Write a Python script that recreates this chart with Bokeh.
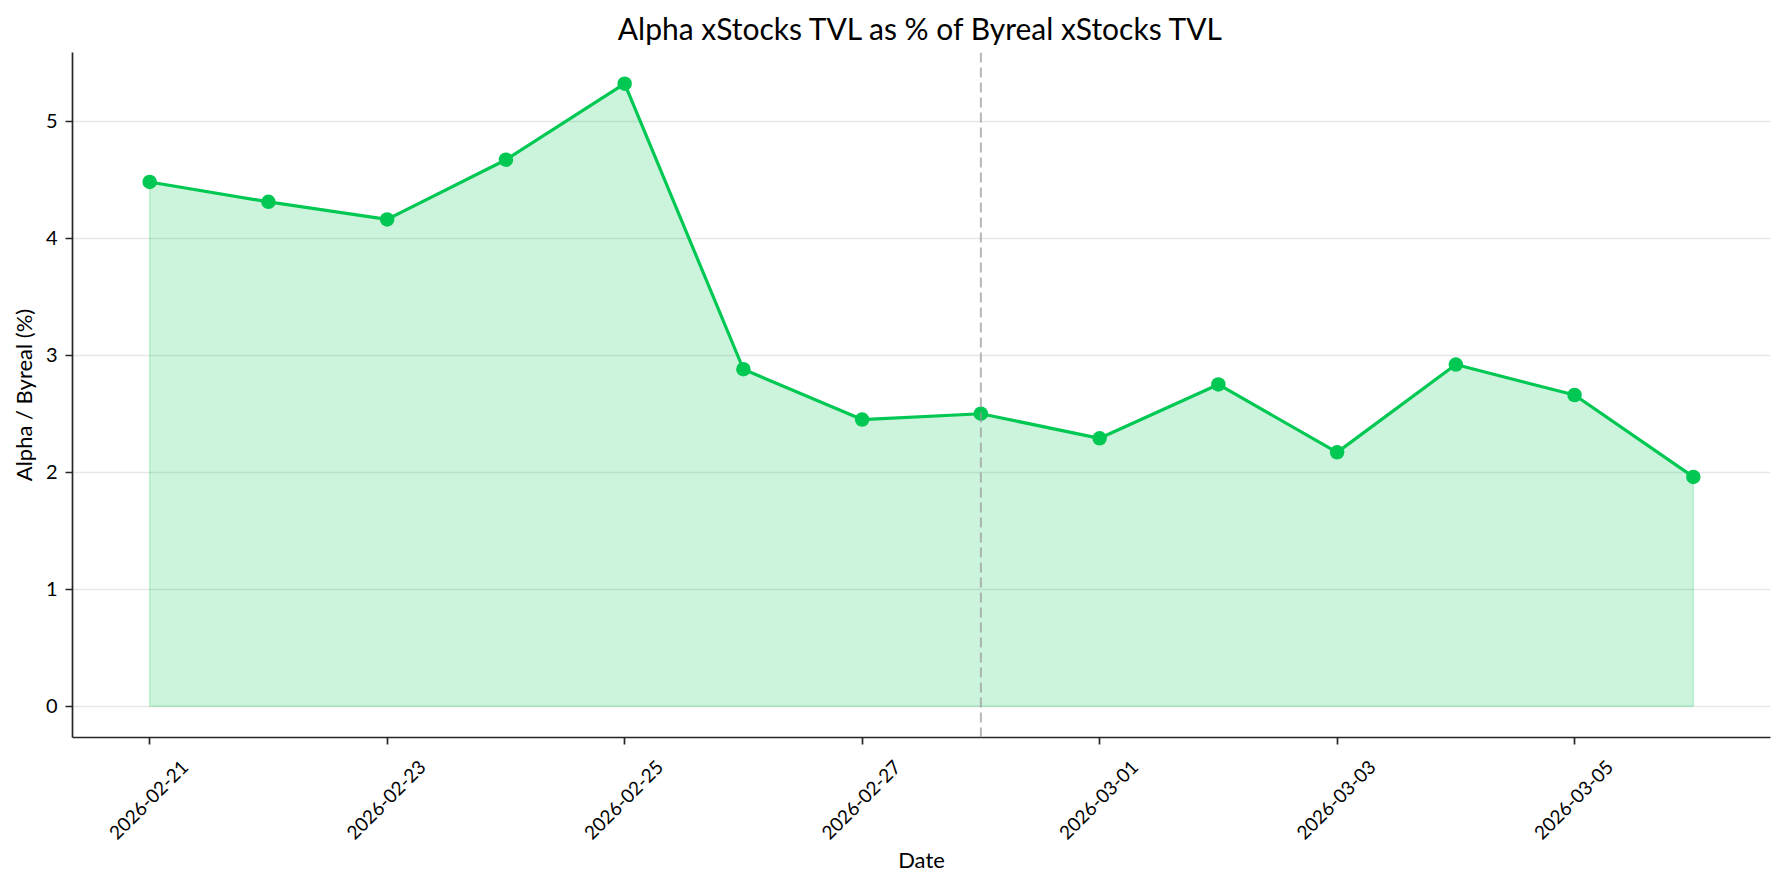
import datetime as dt
import numpy as np
from bokeh.plotting import figure
from bokeh.models import (ColumnDataSource, FixedTicker, DatetimeTickFormatter,
                          DatetimeAxis, Span, Range1d)
from bokeh.embed import file_html
from bokeh.resources import INLINE

# ---- data ----
dates = ["2026-02-21", "2026-02-22", "2026-02-23", "2026-02-24", "2026-02-25",
         "2026-02-26", "2026-02-27", "2026-02-28", "2026-03-01", "2026-03-02",
         "2026-03-03", "2026-03-04", "2026-03-05", "2026-03-06"]
ratio_pct = [4.48, 4.31, 4.16, 4.67, 5.32, 2.88, 2.45, 2.50, 2.29, 2.75,
             2.17, 2.92, 2.66, 1.96]
x_ticks = ["2026-02-21", "2026-02-23", "2026-02-25", "2026-02-27",
           "2026-03-01", "2026-03-03", "2026-03-05"]
y_ticks = [0, 1, 2, 3, 4, 5]
marker_date = "2026-02-28"

TITLE = "Alpha xStocks TVL as % of Byreal xStocks TVL"
XLABEL = "Date"
YLABEL = "Alpha / Byreal (%)"

GREEN = "#00c853"
FONT = "Lato"
INK = "#000000"
SPINE = "#262626"

FRAME_W, FRAME_H = 1698, 685
LABEL_SHIFT_PX = 35   # rotated labels centred on their tick (matplotlib style)


def to_dt(s):
    return dt.datetime.strptime(s, "%Y-%m-%d")


def to_ms(s):
    return (to_dt(s) - dt.datetime(1970, 1, 1)).total_seconds() * 1000.0


xs = [to_dt(d) for d in dates]
src = ColumnDataSource(dict(x=xs, y=ratio_pct))

# matplotlib-like 5% margins
x0, x1 = to_ms(dates[0]), to_ms(dates[-1])
xpad = (x1 - x0) * 0.05
xstart, xend = x0 - xpad, x1 + xpad
ymin, ymax = 0.0, max(ratio_pct)
ypad = (ymax - ymin) * 0.05

p = figure(width=1780, height=882, output_backend="svg", toolbar_location=None,
           x_axis_type="datetime",
           x_range=Range1d(xstart, xend),
           y_range=Range1d(ymin - ypad, ymax + ypad),
           min_border_left=72, min_border_right=10, min_border_top=52,
           min_border_bottom=145)
p.frame_width = FRAME_W
p.frame_height = FRAME_H

# range used only to place the rotated tick labels
shift_ms = LABEL_SHIFT_PX * (xend - xstart) / FRAME_W
p.extra_x_ranges = {"lab": Range1d(xstart - shift_ms, xend - shift_ms)}

# fill under curve
poly_x = xs + [xs[-1], xs[0]]
poly_y = ratio_pct + [0.0, 0.0]
p.patch(poly_x, poly_y, fill_color=GREEN, fill_alpha=0.2,
        line_color=GREEN, line_alpha=0.2, line_width=1.5)

p.line("x", "y", source=src, line_color=GREEN, line_width=3.2)
p.scatter("x", "y", source=src, size=14.5, fill_color=GREEN, line_color=GREEN,
          line_width=0)

vline = Span(location=to_ms(marker_date), dimension="height",
             line_color="#999999", line_alpha=0.7, line_width=2,
             line_dash="10 5")
p.add_layout(vline)

# title
p.title.text = TITLE
p.title.align = "center"
p.title.text_font = FONT
p.title.text_font_size = "30px"
p.title.text_font_style = "normal"
p.title.text_color = INK
p.title.standoff = 14

tick_ms = [to_ms(t) for t in x_ticks]
fmt = DatetimeTickFormatter(days="%Y-%m-%d", months="%Y-%m-%d")

# main x axis: spine + tick marks (drawn as minor ticks, no labels)
xa = p.xaxis[0]
xa.ticker = FixedTicker(ticks=[], minor_ticks=tick_ms)
xa.formatter = fmt
xa.major_label_standoff = 0
xa.major_tick_out = 7
xa.major_tick_in = 0
xa.minor_tick_out = 7
xa.minor_tick_in = 0
xa.minor_tick_line_color = SPINE
xa.minor_tick_line_width = 1.7
xa.axis_line_color = SPINE
xa.axis_line_width = 1.7

# label axis (rotated labels, axis title)
la = DatetimeAxis(x_range_name="lab", ticker=FixedTicker(ticks=tick_ms),
                  formatter=fmt)
la.axis_line_color = None
la.major_tick_line_color = None
la.minor_tick_line_color = None
la.major_tick_out = 0
la.major_tick_in = 0
la.minor_tick_out = 0
la.minor_tick_in = 0
la.major_label_orientation = np.pi / 4
la.major_label_standoff = 19
la.major_label_text_font = FONT
la.major_label_text_font_size = "19px"
la.major_label_text_color = INK
la.axis_label = XLABEL
la.axis_label_standoff = -3
la.axis_label_text_font = FONT
la.axis_label_text_font_size = "22px"
la.axis_label_text_font_style = "normal"
la.axis_label_text_color = INK
p.add_layout(la, "below")

ya = p.yaxis[0]
ya.ticker = FixedTicker(ticks=y_ticks)
ya.axis_label = YLABEL
ya.major_label_standoff = 8
ya.axis_label_standoff = 6
ya.major_label_text_font = FONT
ya.major_label_text_font_size = "20px"
ya.major_label_text_color = INK
ya.axis_label_text_font = FONT
ya.axis_label_text_font_size = "22px"
ya.axis_label_text_font_style = "normal"
ya.axis_label_text_color = INK
ya.axis_line_color = SPINE
ya.axis_line_width = 1.7
ya.major_tick_line_color = SPINE
ya.major_tick_line_width = 1.7
ya.major_tick_out = 7
ya.major_tick_in = 0
ya.minor_tick_line_color = None

p.xgrid.grid_line_color = None
p.ygrid.grid_line_color = "#b0b0b0"
p.ygrid.grid_line_alpha = 0.3
p.ygrid.grid_line_width = 1.6
p.outline_line_color = None
p.background_fill_color = "white"
p.border_fill_color = "white"

open("out.html", "w").write(file_html(p, INLINE))
